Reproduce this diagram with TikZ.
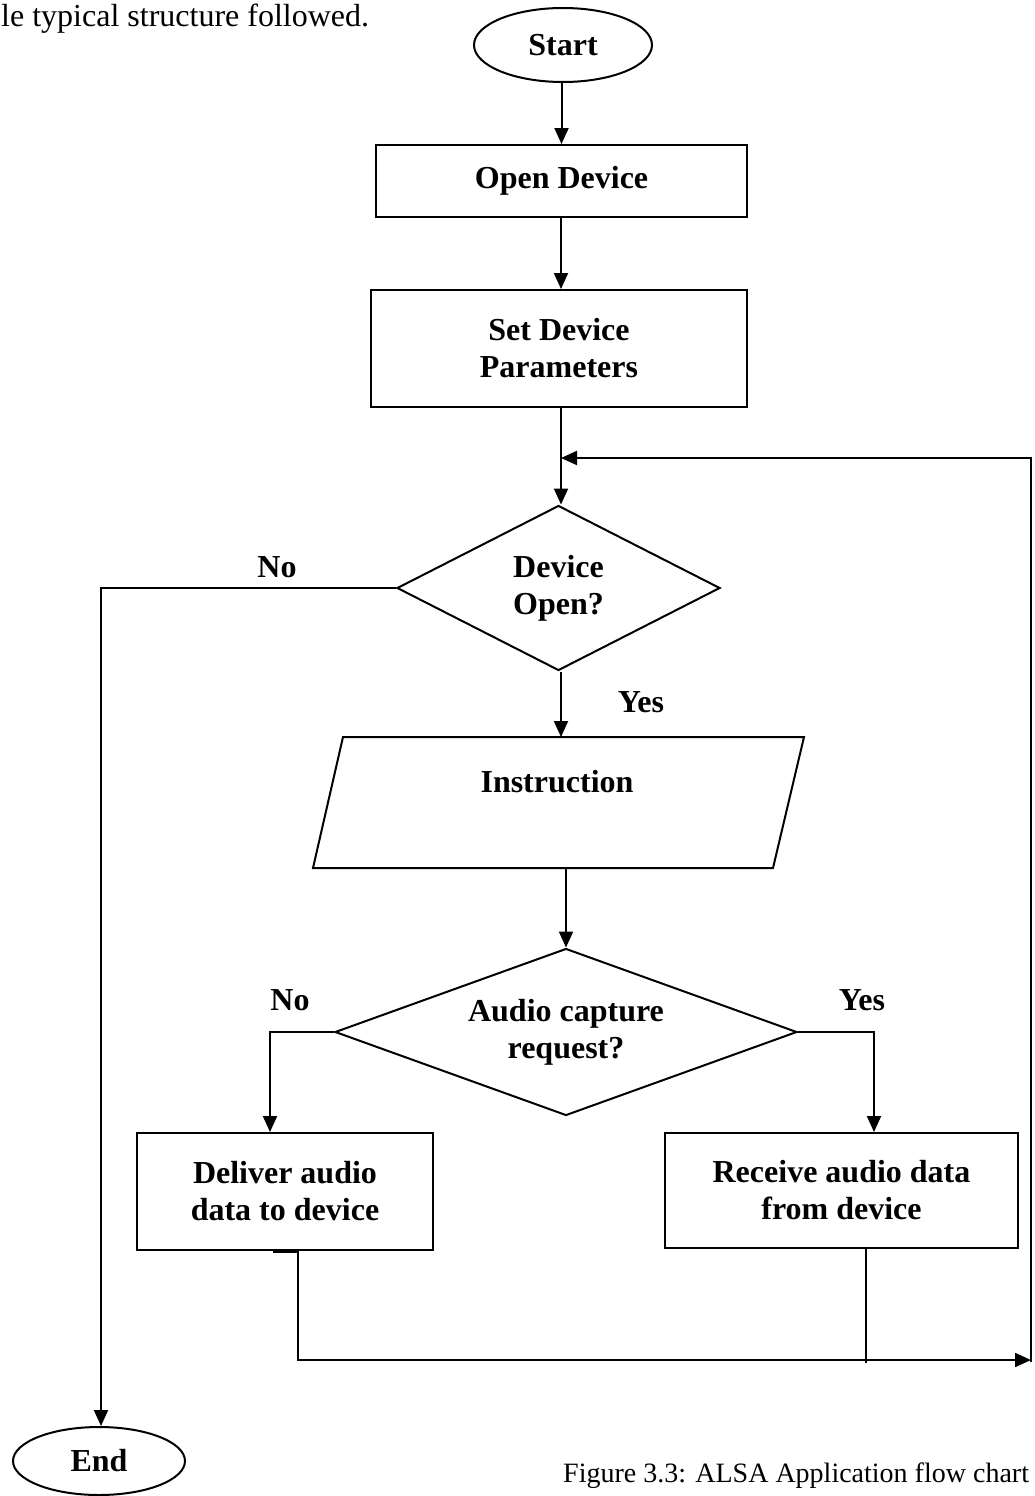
\documentclass[tikz,border=0pt]{standalone}
\usepackage{fontspec}
\setmainfont{Liberation Serif}
\usetikzlibrary{shapes.geometric,arrows.meta}
\tikzset{
  shp/.style={draw, line width=2pt, inner sep=0pt, font=\fontsize{32}{37}\selectfont\bfseries, align=center},
  term/.style={shp, ellipse},
  proc/.style={shp, rectangle},
  dec/.style={shp, diamond, aspect=2},
  lbl/.style={font=\fontsize{32}{37}\selectfont\bfseries, inner sep=0pt},
  plain/.style={font=\fontsize{32}{37}\selectfont, inner sep=0pt},
  conn/.style={line width=2pt},
  arr/.style={conn, -{Triangle[length=16pt,width=14pt]}}
}
\begin{document}
\begin{tikzpicture}[x=1pt,y=-1pt]
\useasboundingbox (0,0) rectangle (1035,1496);
% surrounding text
\node[plain, anchor=base west] (toptext) at (1,27) {le typical structure followed.};
\node[plain, anchor=base west, font=\fontsize{28}{33}\selectfont] (caption) at (563,1482) {Figure 3.3: ALSA Application flow chart};
% nodes
\node[term, minimum width=178pt, minimum height=74pt] (start) at (563,45) {Start};
\node[proc, minimum width=371pt, minimum height=72pt] (open) at (561.5,181) {Open Device};
\node[proc, minimum width=376pt, minimum height=117pt] (setp) at (559,348.5) {Set Device\\Parameters};
\node[dec, minimum width=323pt, minimum height=165pt] (dev) at (558.5,588) {Device\\Open?};
% parallelogram
\draw[line width=2pt] (343,737) -- (804,737) -- (773,868) -- (313,868) -- cycle;
\coordinate (instrT) at (561,737);
\coordinate (instrB) at (566,868);
\node[lbl] (instr) at (557,782) {Instruction};
\node[dec, minimum width=462pt, minimum height=167pt] (capt) at (566,1032) {Audio capture\\request?};
\node[proc, minimum width=296pt, minimum height=117pt] (deliver) at (285,1191.5) {Deliver audio\\data to device};
\node[proc, minimum width=353pt, minimum height=115pt] (receive) at (841.5,1190.5) {Receive audio data\\from device};
\node[term, minimum width=172pt, minimum height=68pt] (end) at (99,1461) {End};
% labels
\node[lbl] (no1) at (277,567) {No};
\node[lbl] (yes1) at (641,702) {Yes};
\node[lbl] (no2) at (290,1000) {No};
\node[lbl] (yes2) at (862,1000) {Yes};
% loop coordinates
\coordinate (dl) at (298,1360);
\coordinate (br) at (1031,1360);
\coordinate (tr) at (1031,458);
\coordinate (loopin) at (561,458);
% connectors
\draw[arr] (start.south -| open.north) -- (open.north);
\draw[arr] (open.south -| 561,0) -- (561,0 |- setp.north);
\draw[arr] (setp.south -| 561,0) -- (561,0 |- dev.north);
\draw[arr] (dev.south -| instrT) -- (instrT);
\draw[arr] (instrB) -- (instrB |- capt.north);
\draw[arr] (dev.west) -- (101,0 |- dev.west) -- (101,0 |- end.north);
\draw[arr] (capt.west) -- (270,0 |- capt.west) -- (270,0 |- deliver.north);
\draw[arr] (capt.east) -- (874,0 |- capt.east) -- (874,0 |- receive.north);
\draw[line width=3pt] (273,0 |- deliver.south) -- (299,0 |- deliver.south);
\draw[arr] (dl |- deliver.south) -- (dl) -- (br);
\draw[conn] (866,0 |- receive.south) -- (866,1363);
\draw[arr] (1031,1362) -- (tr) -- (loopin);
\end{tikzpicture}
\end{document}
